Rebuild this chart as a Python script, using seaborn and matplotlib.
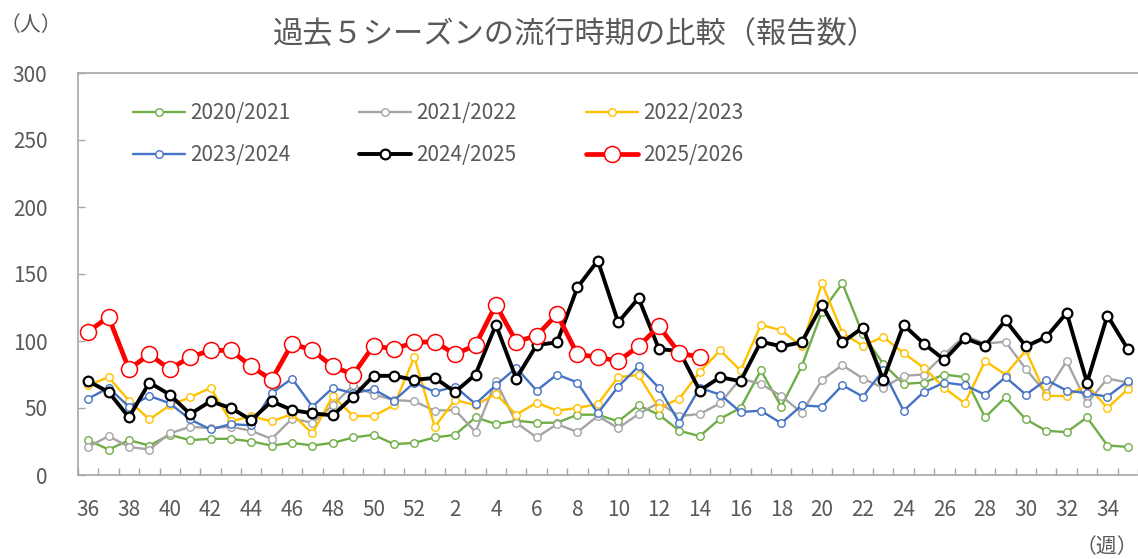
import numpy as np
import pandas as pd
import matplotlib
matplotlib.use("Agg")
import matplotlib.pyplot as plt
import seaborn as sns

# ---- data ----
weeks = list(range(36, 53)) + list(range(1, 36))
s2020 = [26, 19, 26, 22, 30, 26, 27, 27, 25, 22, 24, 22, 24, 28, 30, 23, 24, 28, 30, 43,
         38, 40.5, 39, 39, 45, 45, 40, 52, 45, 33, 29, 42, 50, 78, 51, 81, 122, 143, 105, 83,
         68, 69, 75, 73, 43, 58, 41.5, 33, 32, 43, 22, 21]
s2021 = [21, 29, 21, 19, 31, 36, 35, 36, 33, 27, 42, 39, 52, 67, 60, 56, 55, 48, 48.5, 32,
         70, 39, 28, 38, 32, 44, 35, 45.5, 54, 44, 45.5, 53.5, 72, 68, 59, 46.5, 71, 82, 72, 65,
         74, 75, 90, 104, 98, 99.5, 79, 61, 85, 53.5, 72, 69]
s2022 = [67, 73, 55.5, 41.5, 52, 58, 65, 40, 44, 40, 45.5, 31, 59, 44, 44, 52, 88, 36, 56, 52,
         60.5, 45, 54, 48, 50, 53, 73, 74.6, 50, 57, 77, 93, 78, 112, 108, 96, 143, 106, 96.5, 103,
         91, 80, 65, 53.5, 85, 75, 93, 59, 59, 67, 50, 64]
s2023 = [57, 65, 51, 59, 53.5, 41.5, 34, 38, 37, 61, 72, 51, 65, 61, 64, 55.5, 69, 62, 66, 53,
         67, 80, 63, 75, 69, 46, 66, 81, 65, 39, 65, 60, 47, 48, 38.6, 52, 51, 67, 58.5, 78,
         48, 62, 69, 67, 60, 73, 60, 71, 63, 61, 58.5, 70]
s2024 = [70, 62, 43, 69, 60, 45.5, 55, 50, 41, 55, 48.5, 46, 44.5, 58.5, 74, 74, 71, 72.5, 62, 75,
         112, 72, 97, 99, 140, 160, 114, 132, 94, 92.5, 63, 73, 70, 99.5, 96, 99, 127, 99, 110, 71,
         112, 98, 86, 102, 96.5, 115.5, 96, 103, 121, 69, 119, 94]
s2025 = [107, 118, 79, 90, 79, 88, 93, 93, 81, 71, 98, 93, 81, 75, 96.5, 94, 99, 99.5, 90, 97,
         127, 99.5, 104, 120, 90, 88, 85, 96, 111, 91, 88]
s2025 = s2025 + [np.nan] * (len(weeks) - len(s2025))

season_labels = ["2020/2021", "2021/2022", "2022/2023", "2023/2024", "2024/2025", "2025/2026"]
series = [s2020, s2021, s2022, s2023, s2024, s2025]
colors = ["#70AD47", "#A5A5A5", "#FFC000", "#4472C4", "#000000", "#FF0000"]
y_ticks = [0, 50, 100, 150, 200, 250, 300]
title = "過去５シーズンの流行時期の比較（報告数）"

# ---- styling ----
sns.set_theme(style="white")
plt.rcParams["font.family"] = ["Noto Sans CJK JP", "DejaVu Sans"]
TXT = "#595959"
AX = "#A6A6A6"
FS = 15

W, H = 1138, 559
fig = plt.figure(figsize=(W / 100, H / 100), dpi=100)
ax = fig.add_axes([78 / W, (H - 475) / H, (W - 78) / W, (475 - 73) / H])

pos = np.arange(len(weeks))
df = pd.DataFrame({"pos": pos})
for lab, vals in zip(season_labels, series):
    df[lab] = vals

styles = {
    "2020/2021": dict(lw=1.7, ms=5.4, mew=1.0),
    "2021/2022": dict(lw=1.7, ms=5.4, mew=1.0),
    "2022/2023": dict(lw=1.7, ms=5.4, mew=1.0),
    "2023/2024": dict(lw=1.7, ms=5.4, mew=1.0),
    "2024/2025": dict(lw=2.8, ms=7.0, mew=1.6),
    "2025/2026": dict(lw=3.4, ms=11.5, mew=1.1),
}
handles = {}
for i, (lab, col) in enumerate(zip(season_labels, colors)):
    st = styles[lab]
    sns.lineplot(data=df, x="pos", y=lab, ax=ax, color=col, linewidth=st["lw"],
                 marker="o", markersize=st["ms"], markerfacecolor="white",
                 markeredgecolor=col, markeredgewidth=st["mew"], label=lab,
                 zorder=2 + i, clip_on=False, estimator=None, sort=False)
for l, lab in zip(ax.get_lines(), season_labels):
    handles[lab] = l

ax.set_xlim(-0.5, 51.06)
ax.set_ylim(0, 300)
ax.set_xlabel("")
ax.set_ylabel("")

ax.set_xticks(pos[::2])
ax.set_xticklabels([str(w) for w in weeks][::2])
ax.set_xticks(np.arange(-0.5, 52, 1), minor=True)
ax.tick_params(axis="x", which="major", length=0, pad=17, labelsize=FS, labelcolor=TXT)
ax.tick_params(axis="x", which="minor", direction="in", length=5, width=1, color=AX, bottom=True)
ax.set_yticks(y_ticks)
ax.tick_params(axis="y", direction="in", length=5, width=1, color=AX, left=True,
               pad=22, labelsize=FS, labelcolor=TXT)

for side in ["left", "top", "bottom"]:
    ax.spines[side].set_visible(True)
    ax.spines[side].set_color(AX)
    ax.spines[side].set_linewidth(1.2)
ax.spines["right"].set_visible(False)

order = ["2020/2021", "2023/2024", "2021/2022", "2024/2025", "2022/2023", "2025/2026"]
ax.legend([handles[k] for k in order], order, ncol=3, frameon=False,
          loc="upper left", bbox_to_anchor=(133 / W, (H - 102) / H),
          bbox_transform=fig.transFigure, borderpad=0, borderaxespad=0,
          fontsize=FS, handlelength=2.5, handletextpad=0.25, columnspacing=3.3,
          labelspacing=0.95, labelcolor=TXT)

fig.text(575 / W, 1 - 35 / H, title, ha="center", va="center", fontsize=21.8, color=TXT)
fig.text(31 / W, 1 - 25 / H, "（人）", ha="center", va="center", fontsize=FS, color=TXT)
fig.text(1138 / W, 1 - 547 / H, "（週）", ha="right", va="center", fontsize=FS, color=TXT)

fig.savefig("out.png", dpi=100)
